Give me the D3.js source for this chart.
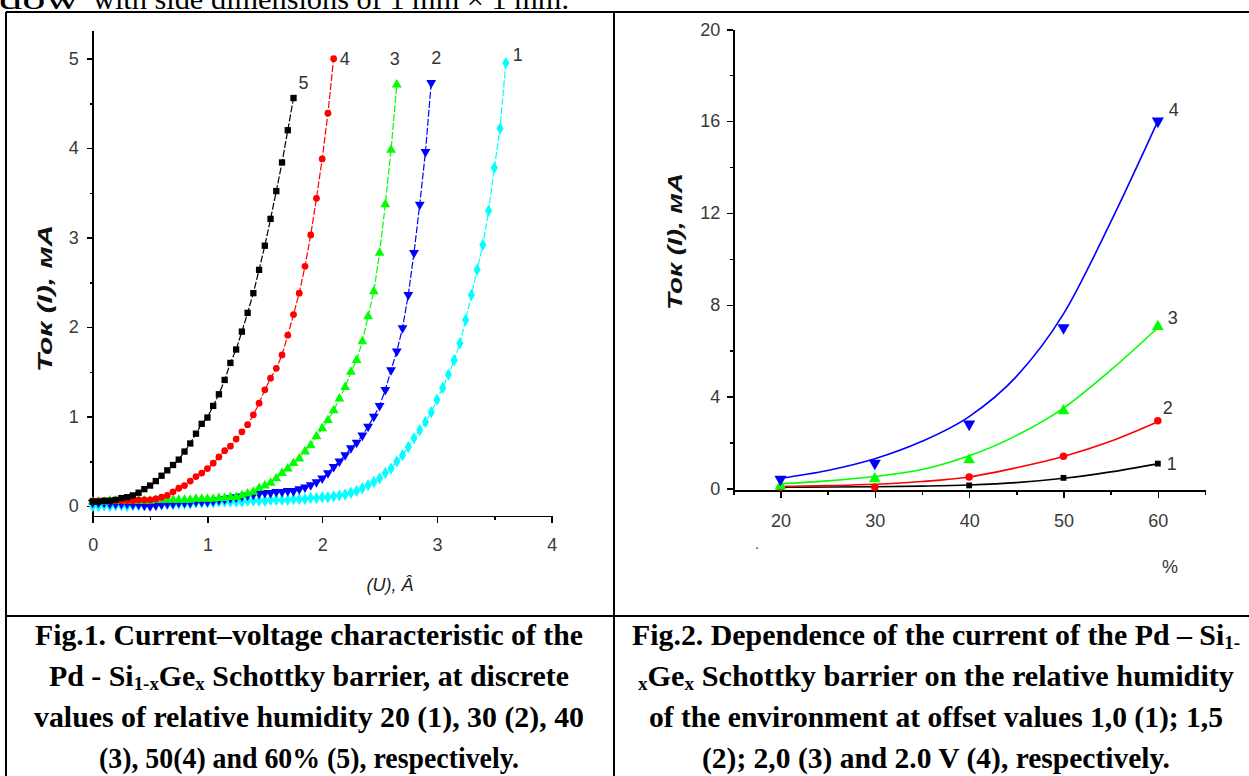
<!DOCTYPE html>
<html>
<head>
<meta charset="utf-8">
<script src="https://cdn.jsdelivr.net/npm/d3@7"></script>
<style>
  body { margin: 0; background: #fff; }
  svg { display: block; background: #fff; }
  .axis path, .axis line { stroke: #000; stroke-width: 1.5; shape-rendering: crispEdges; }
  .axis text { font-family: "Liberation Sans", Arial, sans-serif; font-size: 18px; fill: #3a3a3a; }
  .curve-label { font-family: "Liberation Sans", Arial, sans-serif; font-size: 18px; fill: #333; }
  .caption { font-family: "Liberation Serif", "Times New Roman", serif; font-weight: bold; font-size: 30px; fill: #000; }
  .border { stroke: #000; stroke-width: 2; shape-rendering: crispEdges; }
</style>
</head>
<body>
<svg id="page" width="1249" height="776"></svg>
<script>
// ---- Fig.1 data: current (mA) vs voltage, one value per 0.05 V step ----
const voltage = [0,0.05,0.1,0.15,0.2,0.25,0.3,0.35,0.4,0.45,0.5,0.55,0.6,0.65,0.7,0.75,0.8,0.85,0.9,0.95,
  1,1.05,1.1,1.15,1.2,1.25,1.3,1.35,1.4,1.45,1.5,1.55,1.6,1.65,1.7,1.75,1.8,1.85,1.9,1.95,
  2,2.05,2.1,2.15,2.2,2.25,2.3,2.35,2.4,2.45,2.5,2.55,2.6,2.65,2.7,2.75,2.8,2.85,2.9,2.95,
  3,3.05,3.1,3.15,3.2,3.25,3.3,3.35,3.4,3.45,3.5,3.55,3.6];

const current1 = [0.00,0.00,0.01,0.00,0.01,0.01,0.00,0.01,0.01,0.01,
  0.02,0.02,0.02,0.02,0.02,0.03,0.03,0.03,0.04,0.04,
  0.04,0.04,0.05,0.05,0.05,0.05,0.05,0.06,0.06,0.06,
  0.06,0.07,0.07,0.07,0.07,0.08,0.08,0.08,0.09,0.09,
  0.10,0.10,0.11,0.12,0.13,0.15,0.17,0.20,0.235,0.27,
  0.31,0.37,0.42,0.50,0.57,0.66,0.76,0.85,0.94,1.05,
  1.19,1.32,1.47,1.63,1.82,2.08,2.36,2.64,2.92,3.30,
  3.78,4.22,4.95];
const current2 = [0.04,0.04,0.04,0.03,0.03,0.03,0.03,0.02,0.02,0.01,
  0.00,0.01,0.02,0.03,0.03,0.04,0.04,0.04,0.05,0.05,
  0.05,0.06,0.07,0.08,0.09,0.10,0.11,0.12,0.13,0.14,
  0.15,0.15,0.16,0.16,0.17,0.17,0.19,0.21,0.235,0.27,
  0.31,0.37,0.44,0.50,0.57,0.65,0.71,0.79,0.89,1.00,
  1.12,1.30,1.52,1.73,1.99,2.36,2.83,3.37,3.96,4.73];
const current3 = [0.05,0.05,0.05,0.06,0.06,0.06,0.06,0.06,0.06,0.06,
  0.06,0.07,0.07,0.07,0.07,0.07,0.07,0.07,0.08,0.08,
  0.08,0.08,0.09,0.09,0.10,0.10,0.12,0.14,0.16,0.20,
  0.23,0.26,0.31,0.37,0.42,0.48,0.53,0.61,0.68,0.78,
  0.87,0.96,1.07,1.20,1.33,1.50,1.63,1.84,2.12,2.40,
  2.83,3.37,3.98,4.71];
const current4 = [0.06,0.06,0.06,0.06,0.06,0.06,0.06,0.06,0.07,0.07,
  0.07,0.08,0.10,0.12,0.16,0.20,0.23,0.28,0.33,0.37,
  0.42,0.48,0.55,0.62,0.67,0.75,0.83,0.91,1.02,1.15,
  1.30,1.43,1.54,1.69,1.91,2.14,2.38,2.68,3.03,3.44,
  3.88,4.39,5.00];
const current5 = [0.05,0.05,0.06,0.06,0.07,0.09,0.10,0.12,0.15,0.19,
  0.23,0.28,0.34,0.40,0.46,0.52,0.61,0.70,0.81,0.92,
  0.99,1.12,1.25,1.41,1.60,1.75,1.95,2.16,2.38,2.64,
  2.91,3.21,3.52,3.84,4.20,4.56];

const fig1Names = ["1", "2", "3", "4", "5"];
const fig1Colors = ["#00ffff", "#0000ff", "#00ff00", "#ff0000", "#000000"];
const fig1Ticks = [0, 1, 2, 3, 4];
const fig1MinorX = [0.5, 1.5, 2.5, 3.5];
const fig1YTicks = [0, 1, 2, 3, 4, 5];
const fig1MinorY = [0.5, 1.5, 2.5, 3.5, 4.5];

// ---- Fig.2 data: current (mA) vs relative humidity (%) ----
const humidity = [20, 30, 40, 50, 60];
const point1 = [0.02, 0.03, 0.13, 0.46, 1.08];
const point2 = [0.05, 0.05, 0.50, 1.40, 2.95];
const point3 = [0.10, 0.42, 1.24, 3.38, 7.05];
const point4 = [0.40, 1.10, 2.80, 7.00, 16.0];

// fitted curves, read every 5 %
const fitHumidity = [20, 25, 30, 35, 40, 45, 50, 55, 60];
const fit1 = [0.05, 0.06, 0.07, 0.10, 0.15, 0.25, 0.44, 0.72, 1.07];
const fit2 = [0.08, 0.12, 0.18, 0.30, 0.50, 0.90, 1.39, 2.05, 2.90];
const fit3 = [0.20, 0.33, 0.52, 0.82, 1.42, 2.30, 3.50, 5.15, 7.00];
const fit4 = [0.44, 0.78, 1.29, 2.05, 3.13, 4.87, 7.60, 11.6, 16.0];

const fig2Names = ["1", "2", "3", "4"];
const fig2Colors = ["#000000", "#ff0000", "#00ff00", "#0000ff"];
const fig2XTicks = [20, 30, 40, 50, 60];
const fig2MinorX = [15, 25, 35, 45, 55, 65];
const fig2YTicks = [0, 4, 8, 12, 16, 20];
const fig2MinorY = [2, 6, 10, 14, 18];

const svg = d3.select("#page");

// Marker shapes (down triangle = rotated triangle)
const markers = {
  square:   {type: d3.symbolSquare,   size: 40, rot: 0},
  circle:   {type: d3.symbolCircle,   size: 36, rot: 0},
  up:       {type: d3.symbolTriangle, size: 42, rot: 0},
  down:     {type: d3.symbolTriangle, size: 42, rot: 180},
  diamond:  {type: d3.symbolDiamond,  size: 44, rot: 0}
};

function drawMarkers(g, pts, x, y, m, color, size) {
  g.selectAll(null)
    .data(pts)
    .enter().append("path")
    .attr("d", d3.symbol().type(markers[m].type).size(size || markers[m].size))
    .attr("transform", (d) => "translate(" + x(d[0]) + "," + y(d[1]) + ") rotate(" + markers[m].rot + ")")
    .attr("fill", color);
}

function drawAxes(x, y, xMajor, xMinor, yMajor, yMinor, xPad, yPad) {
  const y0 = y.range()[0], x0 = x.range()[0];
  svg.append("g").attr("class", "axis")
    .attr("transform", "translate(0," + y0 + ")")
    .call(d3.axisBottom(x).tickValues(xMinor).tickSize(4).tickFormat(""))
    .select(".domain").remove();
  svg.append("g").attr("class", "axis")
    .attr("transform", "translate(0," + y0 + ")")
    .call(d3.axisBottom(x).tickValues(xMajor).tickSize(7).tickSizeOuter(0).tickPadding(xPad).tickFormat(d3.format("d")));
  svg.append("g").attr("class", "axis")
    .attr("transform", "translate(" + x0 + ",0)")
    .call(d3.axisLeft(y).tickValues(yMinor).tickSize(3).tickFormat(""))
    .select(".domain").remove();
  svg.append("g").attr("class", "axis")
    .attr("transform", "translate(" + x0 + ",0)")
    .call(d3.axisLeft(y).tickValues(yMajor).tickSize(6).tickSizeOuter(0).tickPadding(yPad).tickFormat(d3.format("d")));
}

// ================= Fig.1 =================
const xL = d3.scaleLinear().domain([0, 4]).range([92.7, 551.7]);
const yL = d3.scaleLinear().domain([-0.11, 5.32]).range([516, 30]);

drawAxes(xL, yL, fig1Ticks, fig1MinorX, fig1YTicks, fig1MinorY, 15, 8);

const fig1Series = [current1, current2, current3, current4, current5];
const fig1Markers = ["diamond", "down", "up", "circle", "square"];
const fig1LabelOffset = [[12, -8], [5, -25], [-2, -26], [11, 0], [10, -15]];

const lineL = d3.line().x((d) => xL(d[0])).y((d) => yL(d[1]));

fig1Series.forEach((vals, k) => {
  const pts = vals.map((v, i) => [voltage[i], v]);
  const g = svg.append("g");
  g.append("path")
    .attr("d", lineL(pts))
    .attr("fill", "none")
    .attr("stroke", fig1Colors[k])
    .attr("stroke-width", 1.2)
    .attr("stroke-dasharray", "7,2");
  drawMarkers(g, pts, xL, yL, fig1Markers[k], fig1Colors[k]);
  const last = pts[pts.length - 1];
  svg.append("text").attr("class", "curve-label")
    .attr("x", xL(last[0]) + fig1LabelOffset[k][0])
    .attr("y", yL(last[1]) + fig1LabelOffset[k][1])
    .attr("dy", "0.35em")
    .attr("text-anchor", "middle")
    .text(fig1Names[k]);
});

// axis titles
svg.append("text")
  .attr("x", 390).attr("y", 585).attr("dy", "0.35em")
  .attr("text-anchor", "middle")
  .style("font-family", "Liberation Sans, Arial, sans-serif")
  .style("font-style", "italic").style("font-size", "18px").style("fill", "#222")
  .text("(U), Â");

svg.append("text")
  .attr("transform", "translate(45,298.5) rotate(-90)")
  .attr("dy", "0.35em")
  .attr("text-anchor", "middle")
  .attr("textLength", 147).attr("lengthAdjust", "spacingAndGlyphs")
  .style("font-family", "Liberation Sans, Arial, sans-serif")
  .style("font-style", "italic").style("font-weight", "bold").style("font-size", "20px").style("fill", "#111")
  .text("Ток (I), мА");

// ================= Fig.2 =================
const xR = d3.scaleLinear().domain([15, 65]).range([733.3, 1205]);
const yR = d3.scaleLinear().domain([-0.1, 20]).range([490.7, 29.3]);

drawAxes(xR, yR, fig2XTicks, fig2MinorX, fig2YTicks, fig2MinorY, 17, 7);

const fig2Points = [point1, point2, point3, point4];
const fig2Fits = [fit1, fit2, fit3, fit4];
const fig2Markers = ["square", "circle", "up", "down"];
const fig2Size = [34, 44, 60, 64];
const fig2LabelOffset = [[14, 0], [10, -14], [15, -10], [16, -11]];

const lineR = d3.line().x((d) => xR(d[0])).y((d) => yR(d[1])).curve(d3.curveMonotoneX);

fig2Fits.forEach((vals, k) => {
  const pts = vals.map((v, i) => [fitHumidity[i], v]);
  const g = svg.append("g");
  g.append("path")
    .attr("d", lineR(pts))
    .attr("fill", "none")
    .attr("stroke", fig2Colors[k])
    .attr("stroke-width", 1.6);
  const mpts = fig2Points[k].map((v, i) => [humidity[i], v]);
  drawMarkers(g, mpts, xR, yR, fig2Markers[k], fig2Colors[k], fig2Size[k]);
  const last = pts[pts.length - 1];
  svg.append("text").attr("class", "curve-label")
    .attr("x", xR(last[0]) + fig2LabelOffset[k][0])
    .attr("y", yR(last[1]) + fig2LabelOffset[k][1])
    .attr("dy", "0.35em")
    .attr("text-anchor", "middle")
    .text(fig2Names[k]);
});

svg.append("text")
  .attr("x", 1170).attr("y", 567).attr("dy", "0.35em")
  .attr("text-anchor", "middle")
  .style("font-family", "Liberation Sans, Arial, sans-serif")
  .style("font-size", "18px").style("fill", "#333")
  .text("%");

svg.append("text")
  .attr("x", 757).attr("y", 552)
  .attr("text-anchor", "middle")
  .style("font-family", "Liberation Sans, Arial, sans-serif")
  .style("font-size", "14px").style("fill", "#333")
  .text("·");

svg.append("text")
  .attr("transform", "translate(675,241.5) rotate(-90)")
  .attr("dy", "0.35em")
  .attr("text-anchor", "middle")
  .attr("textLength", 137).attr("lengthAdjust", "spacingAndGlyphs")
  .style("font-family", "Liberation Sans, Arial, sans-serif")
  .style("font-style", "italic").style("font-weight", "bold").style("font-size", "20px").style("fill", "#111")
  .text("Ток (I), мА");

// ================= page text and table lines =================
svg.append("text").attr("class", "caption")
  .attr("x", -1).attr("y", 9).attr("textLength", 80).attr("lengthAdjust", "spacingAndGlyphs")
  .style("font-weight", "normal").text("dow");
svg.append("text").attr("class", "caption")
  .attr("x", 93).attr("y", 9).attr("textLength", 476).attr("lengthAdjust", "spacingAndGlyphs")
  .style("font-weight", "normal").text("with side dimensions of 1 mm × 1 mm.");

const borders = [
  [6, 11.5, 1249, 11.5],
  [6, 11.5, 6, 776],
  [613.5, 11.5, 613.5, 776],
  [6, 616, 1249, 616]
];
svg.selectAll(".border").data(borders).enter().append("line")
  .attr("class", "border")
  .attr("x1", (d) => d[0]).attr("y1", (d) => d[1])
  .attr("x2", (d) => d[2]).attr("y2", (d) => d[3]);

// caption lines: [segments, width]; segments = [text, isSub]
const captionLeft = [
  [[["Fig.1. Current–voltage characteristic of the", 0]], 548],
  [[["Pd - Si", 0], ["1-x", 1], ["Ge", 0], ["x", 1], [" Schottky barrier, at discrete", 0]], 520],
  [[["values of relative humidity 20 (1), 30 (2), 40", 0]], 550],
  [[["(3), 50(4) and 60% (5), respectively.", 0]], 420]
];
const captionRight = [
  [[["Fig.2. Dependence of the current of the Pd – Si", 0], ["1-", 1]], 608],
  [[["x", 1], ["Ge", 0], ["x", 1], [" Schottky barrier on the relative humidity", 0]], 596],
  [[["of the environment at offset values 1,0 (1); 1,5", 0]], 574],
  [[["(2); 2,0 (3) and 2.0 V (4), respectively.", 0]], 468]
];
const captionBaselines = [645, 686, 727, 768];

function drawCaption(lines, cx) {
  lines.forEach((ln, i) => {
    const t = svg.append("text").attr("class", "caption")
      .attr("x", cx).attr("y", captionBaselines[i])
      .attr("text-anchor", "middle")
      .attr("textLength", ln[1]).attr("lengthAdjust", "spacingAndGlyphs");
    ln[0].forEach((seg) => {
      const s = t.append("tspan").text(seg[0]);
      if (seg[1]) s.style("font-size", "19px").attr("baseline-shift", "-4");
    });
  });
}
drawCaption(captionLeft, 309);
drawCaption(captionRight, 936);
</script>
</body>
</html>
